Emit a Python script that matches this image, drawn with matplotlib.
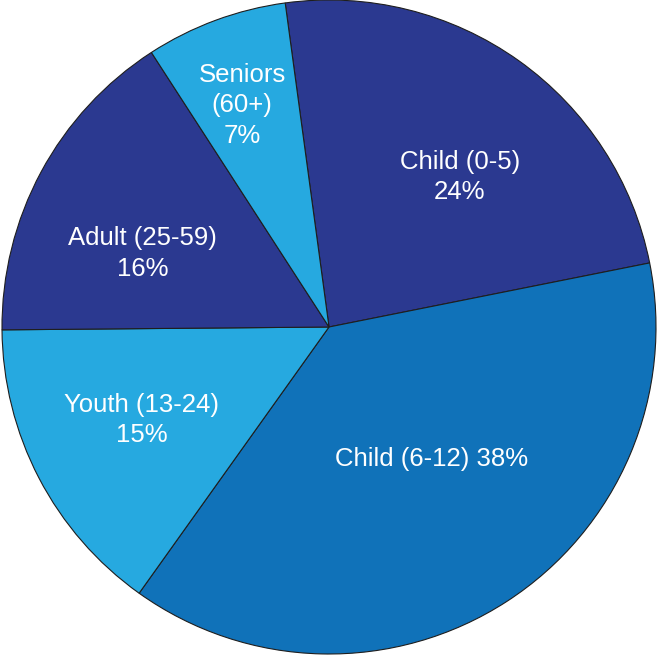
import matplotlib
matplotlib.use("Agg")
import matplotlib.pyplot as plt

# Data (clockwise from the top)
labels = ["Child (0-5)\n24%", "Child (6-12) 38%", "Youth (13-24)\n15%",
          "Adult (25-59)\n16%", "Seniors\n(60+)\n7%"]
shares = [24, 38, 15, 16, 7]
colors = ["#2b3990", "#1072b9", "#26a9e0", "#2b3990", "#26a9e0"]
# label anchor points in data units (pie radius = 1)
label_x = [0.40, 0.315, -0.572, -0.569, -0.266]
label_y = [0.458, -0.405, -0.285, 0.225, 0.678]

W, H = 657, 655
fig = plt.figure(figsize=(W / 100, H / 100), dpi=100, facecolor="white")
ax = fig.add_axes([0, 0, 1, 1])

R = 327.0
cx, cy = 329.0, 327.0
ax.pie(shares, colors=colors, startangle=97.7, counterclock=False, radius=1,
       wedgeprops=dict(edgecolor="#1e1e1e", linewidth=0.8))

for lab, x, y in zip(labels, label_x, label_y):
    ax.text(x, y, lab, color="white", fontsize=18.5, family="Liberation Sans",
            ha="center", va="center", linespacing=1.34)

ax.set_xlim(-cx / R, (W - cx) / R)
ax.set_ylim(-(H - cy) / R, cy / R)
ax.set_aspect("auto")
ax.axis("off")

fig.savefig("out.png", dpi=100, facecolor="white")
